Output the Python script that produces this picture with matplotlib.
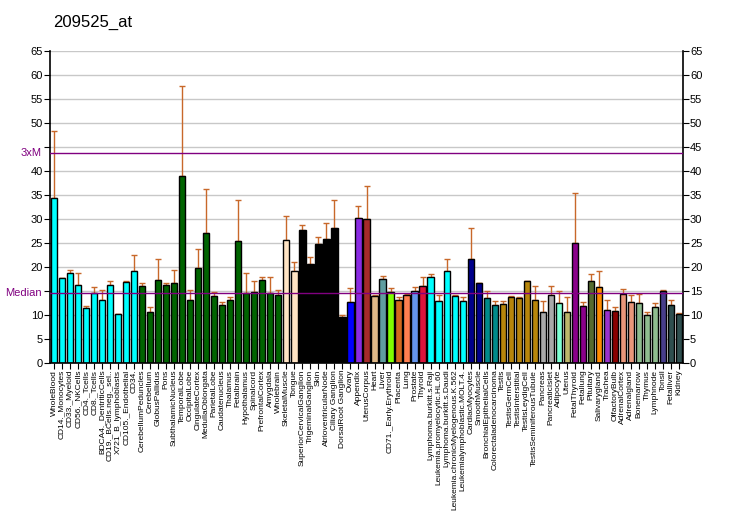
import numpy as np
import matplotlib
matplotlib.use('Agg')
import matplotlib.pyplot as plt

plt.rcParams['font.family'] = ['Liberation Sans', 'DejaVu Sans']

# ชื่อเนื้อเยื่อ (แกน x)
labels = [
    'WholeBlood', 'CD14._Monocytes', 'CD33._Myeloid', 'CD56._NKCells', 'CD4._Tcells',
    'CD8._Tcells', 'BDCA4._DentriticCells', 'CD19._BCells.neg._sel..', 'X721_B_lymphoblasts',
    'CD105._Endothelial', 'CD34.', 'CerebellumPeduncles', 'Cerebellum', 'GlobusPallidus',
    'Pons', 'SubthalamicNucleus', 'TemporalLobe', 'OccipitalLobe', 'CingulateCortex',
    'MedullaOblongata', 'ParietalLobe', 'Caudatenucleus', 'Thalamus', 'Fetalbrain',
    'Hypothalamus', 'Spinalcord', 'PrefrontalCortex', 'Amygdala', 'Wholebrain',
    'SkeletalMuscle', 'Tongue', 'SuperiorCervicalGanglion', 'TrigeminalGanglion', 'Skin',
    'AtrioventricularNode', 'Ciliary Ganglion', 'DorsalRoot Ganglion', 'Ovary', 'Appendix',
    'UterusCorpus', 'Heart', 'Liver', 'CD71._Early.Erythroid', 'Placenta', 'Lung',
    'Prostate', 'Thyroid', 'Lymphoma.burkitt.s.Raji', 'Leukemia.promyelocytic.HL.60',
    'Lymphoma.burkitt.s.Daudi', 'Leukemia.chronicMyelogenous.K.562',
    'Leukemialymphoblastic.MOLT.4.', 'CardiacMyocytes', 'SmoothMuscle',
    'BronchialEpithelialCells', 'Colorectaladenocarcinoma', 'Testis', 'TestisGermCell',
    'TestisInterstitial', 'TestisLeydigCell', 'TestisSeminiferousTubule', 'Pancreas',
    'PancreaticIslet', 'Adipocyte', 'Uterus', 'FetalThyroid', 'Fetallung', 'Pituitary',
    'Salivarygland', 'Trachea', 'OlfactoryBulb', 'AdrenalCortex', 'Adrenalgland',
    'Bonemarrow', 'Thymus', 'Lymphnode', 'Tonsil', 'Fetalliver', 'Kidney',
]

# ค่าการแสดงออก (ความสูงแท่ง)
values = [
    34.4, 17.7, 18.75, 16.25, 11.46, 14.44, 13.1, 16.25, 10.2, 16.9,
    19.0, 16.0, 10.6, 17.3, 16.25, 16.7, 38.96, 13.1, 19.8, 27.1,
    13.96, 12.1, 13.1, 25.4, 14.6, 14.8, 17.3, 14.6, 14.2, 25.6,
    19.0, 27.7, 20.6, 24.8, 25.8, 28.1, 9.6, 12.7, 30.2, 30.0,
    13.96, 17.5, 14.8, 13.1, 14.2, 15.0, 16.0, 17.9, 12.9, 19.0,
    13.96, 12.9, 21.5, 16.5, 13.5, 12.1, 12.3, 13.75, 13.5, 17.1,
    13.1, 10.6, 14.2, 12.5, 10.6, 25.0, 11.9, 17.1, 15.8, 11.0,
    10.8, 14.4, 12.7, 12.5, 10.0, 11.7, 15.0, 12.1, 10.2,
]

# ปลายบนของ error bar
err_top = [
    48.3, 17.7, 19.4, 18.75, 11.9, 15.8, 15.2, 17.1, 10.2, 17.1,
    22.5, 16.5, 11.5, 21.5, 16.7, 19.4, 57.6, 15.2, 23.75, 36.25,
    14.8, 12.7, 13.75, 33.96, 18.75, 17.1, 17.9, 17.9, 15.2, 30.6,
    21.0, 28.75, 22.1, 26.25, 29.2, 33.96, 10.0, 15.6, 32.7, 36.9,
    14.2, 18.1, 15.6, 13.75, 14.4, 15.8, 17.9, 18.5, 14.2, 21.5,
    14.2, 13.75, 28.1, 16.5, 15.0, 12.9, 12.9, 13.96, 13.75, 17.1,
    16.0, 12.9, 16.0, 15.0, 13.75, 35.4, 12.7, 18.5, 19.0, 13.1,
    11.7, 15.4, 14.2, 14.4, 10.6, 12.5, 15.2, 13.1, 10.4,
]

# สีของแต่ละกลุ่ม (สี, จำนวนแท่ง)
color_groups = [
    ('#00FFFF', 11), ('#006400', 18), ('#FFE4C4', 2), ('#000000', 6),
    ('#0000FF', 1), ('#8A2BE2', 1), ('#A52A2A', 1), ('#DEB887', 1),
    ('#5F9EA0', 1), ('#7FFF00', 1), ('#D2691E', 1), ('#FF7F50', 1),
    ('#6495ED', 1), ('#DC143C', 1), ('#00FFFF', 5), ('#00008B', 2),
    ('#008B8B', 2), ('#B8860B', 5), ('#A9A9A9', 2), ('#7FFFD4', 1),
    ('#BDB76B', 1), ('#8B008B', 2), ('#556B2F', 1), ('#FF8C00', 1),
    ('#9932CC', 1), ('#8B0000', 1), ('#E9967A', 2), ('#8FBC8F', 3),
    ('#483D8B', 1), ('#2F4F4F', 2),
]
colors = [c for c, n in color_groups for _ in range(n)]

median = 14.55
ticks = np.arange(0, 70, 5)

x = np.arange(len(values))
values = np.array(values)
err = np.array(err_top) - values

fig = plt.figure(figsize=(7.32, 5.30), dpi=100)
ax = fig.add_axes([50 / 732, 1 - 362.7 / 530, 633 / 732, 312 / 530])

for t in ticks:
    ax.axhline(t, color='#C8C8C8', lw=1, zorder=0)

ax.bar(x, values, width=0.78, color=colors, edgecolor='black', linewidth=1, zorder=2)
ax.errorbar(x, values, yerr=[np.zeros_like(err), err], fmt='none',
            ecolor='#C8682A', elinewidth=1, capsize=2.5, capthick=1, zorder=1)

ax.axhline(median, color='#800080', lw=1, zorder=3)
ax.axhline(3 * median, color='#800080', lw=1, zorder=3)

ax.set_xlim(-0.5, len(values) - 0.5)
ax.set_ylim(0, 65)
ax.set_yticks(ticks)
ax.tick_params(axis='y', labelsize=8, length=4, right=True, labelright=True, pad=1)
ax.set_xticks(x)
ax.set_xticklabels(labels, rotation=90, fontsize=6.0)
ax.tick_params(axis='x', length=4, pad=1)
ax.spines['top'].set_visible(False)
for s in ['left', 'right', 'bottom']:
    ax.spines[s].set_linewidth(1.2)

# ซ่อนป้าย 15 และ 45 ด้านซ้าย ให้ Median / 3xM แทน
for t, v in zip(ax.yaxis.get_major_ticks(), ticks):
    if v in (15, 45):
        t.label1.set_visible(False)

ax.annotate('Median', xy=(0, median), xycoords=('axes fraction', 'data'),
            xytext=(-6, 0), textcoords='offset points',
            color='#800080', fontsize=8, ha='right', va='center')
ax.annotate('3xM', xy=(0, 3 * median), xycoords=('axes fraction', 'data'),
            xytext=(-6, 0), textcoords='offset points',
            color='#800080', fontsize=8, ha='right', va='center')

fig.text(53 / 732, 1 - 22 / 530, '209525_at', fontsize=12, ha='left', va='center')

fig.savefig('out.png', dpi=100)
